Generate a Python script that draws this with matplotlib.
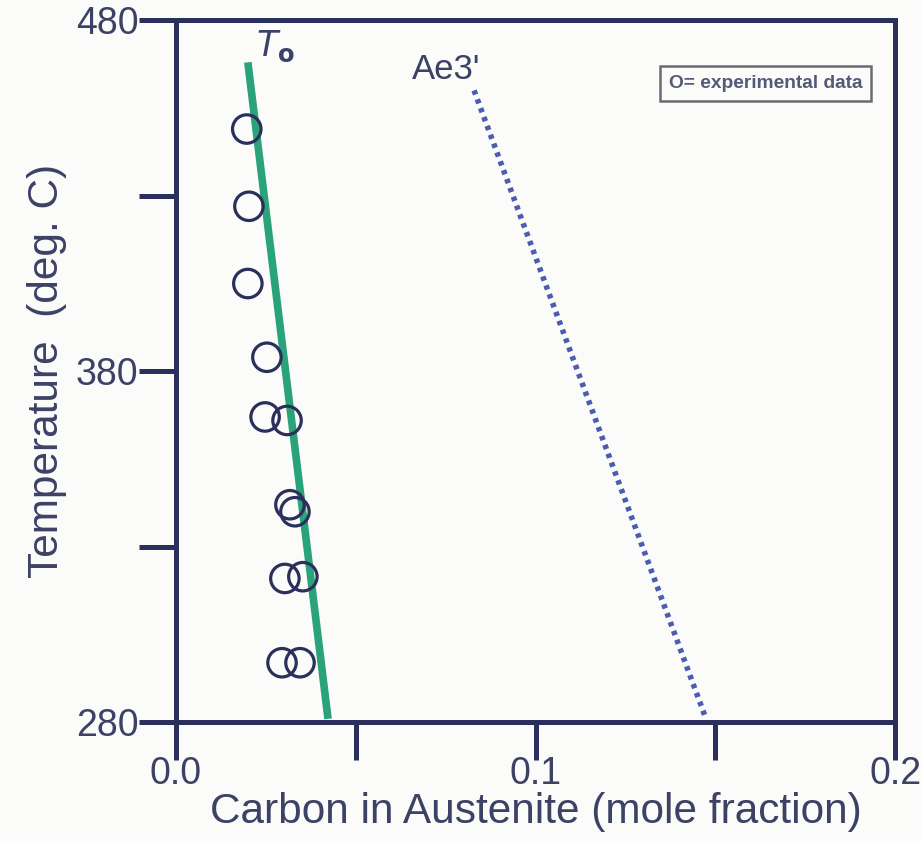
import matplotlib
matplotlib.use("Agg")
import matplotlib.pyplot as plt
from matplotlib.ticker import FixedLocator

plt.rcParams['font.family'] = ['Liberation Sans', 'DejaVu Sans']

# T0 line (carbon mole fraction, temperature)
t0_x = [0.0200, 0.0423]
t0_y = [468, 281]

# Ae3' line
ae3_x = [0.0829, 0.1474]
ae3_y = [460, 281]

# experimental data
exp_x = [0.0197, 0.0203, 0.0200, 0.0253, 0.0248, 0.0309, 0.0317, 0.0331,
         0.0303, 0.0353, 0.0295, 0.0345]
exp_y = [449, 427, 405, 384, 367, 366, 342, 340, 321, 321.5, 297, 297]

x_major = [0, 0.1, 0.2]
x_minor = [0.05, 0.15]
x_labels = ['0.0', '0.1', '0.2']
y_major = [280, 380, 480]
y_minor = [330, 430]
y_labels = ['280', '380', '480']

navy = '#2b2f5c'
text_col = '#3c4166'

fig = plt.figure(figsize=(9.21, 8.41), dpi=100)
fig.patch.set_facecolor('#fbfbf9')
ax = fig.add_axes([0.191, 0.141, 0.781, 0.835])
ax.set_facecolor('#fbfbf9')

ax.plot(t0_x, t0_y, color='#2aa27a', lw=5.5, solid_capstyle='butt', zorder=2)
ax.plot(ae3_x, ae3_y, color='#4a5db0', lw=4, linestyle=(0, (0.8, 0.9)), zorder=2)
ax.scatter(exp_x, exp_y, s=420, facecolors='none', edgecolors=navy,
           linewidths=2.3, zorder=3)

ax.text(0.0222, 472.5, r'$\mathit{T}_{\mathbf{o}}$', fontsize=25, color=text_col,
        va='center', ha='left')
ax.text(0.0655, 466, "Ae3'", fontsize=25, color=text_col, va='center', ha='left')
ax.text(0.1370, 462, 'O= experimental data', fontsize=13.8, fontweight='bold',
        color='#555a78', va='center', ha='left',
        bbox=dict(boxstyle='square,pad=0.45', facecolor='#fbfbf9',
                  edgecolor='#6a6a72', linewidth=1.8))

ax.set_xlim(0, 0.2)
ax.set_ylim(280, 480)
ax.set_xticks(x_major)
ax.set_xticklabels(x_labels)
ax.xaxis.set_minor_locator(FixedLocator(x_minor))
ax.set_yticks(y_major)
ax.set_yticklabels(y_labels)
ax.yaxis.set_minor_locator(FixedLocator(y_minor))

for s in ax.spines.values():
    s.set_linewidth(3.6)
    s.set_color(navy)

ax.tick_params(axis='both', which='both', direction='out', length=27,
               width=3.6, color=navy, labelsize=27, labelcolor=text_col)
ax.tick_params(axis='x', which='both', pad=-3)
ax.tick_params(axis='y', which='both', pad=0)

ax.set_xlabel('Carbon in Austenite (mole fraction)', fontsize=30.5,
              color=text_col, labelpad=0)
ax.set_ylabel('Temperature  (deg. C)', fontsize=30.5, color=text_col,
              labelpad=6)

fig.savefig('out.png', dpi=100, facecolor=fig.get_facecolor())
